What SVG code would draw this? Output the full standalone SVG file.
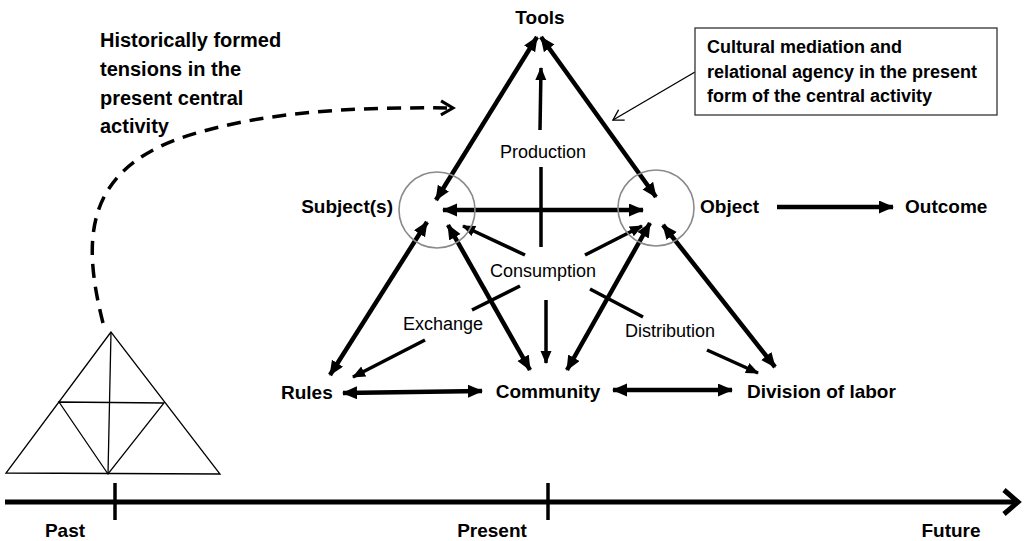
<svg xmlns="http://www.w3.org/2000/svg" width="1025" height="541" viewBox="0 0 1025 541">
<style>
.node{font-family:"Liberation Sans",Arial,sans-serif;font-weight:bold;font-size:19px;fill:#000}
.lbl{font-family:"Liberation Sans",Arial,sans-serif;font-size:18px;fill:#000}
.note{font-family:"Liberation Sans",Arial,sans-serif;font-weight:bold;font-size:18px;fill:#000}
.hist{font-family:"Liberation Sans",Arial,sans-serif;font-weight:bold;font-size:20px;fill:#000}
.thick{stroke:#000;stroke-width:4.5;fill:none}
.med{stroke:#000;stroke-width:3.5;fill:none}
.circ{stroke:#8a8a8a;stroke-width:1.6;fill:none}
.thin{stroke:#000;stroke-width:1.3;fill:none}
</style>
<defs>
<marker id="ah" markerUnits="userSpaceOnUse" markerWidth="16" markerHeight="14" refX="14" refY="6.5" orient="auto-start-reverse" viewBox="0 0 16 14">
<path d="M0,0 L15,6.5 L0,13 z" fill="#000"/>
</marker>
<marker id="ahs" markerUnits="userSpaceOnUse" markerWidth="14" markerHeight="12" refX="12" refY="5.5" orient="auto-start-reverse" viewBox="0 0 14 12">
<path d="M0,0 L13,5.5 L0,11 z" fill="#000"/>
</marker>
<marker id="open" markerUnits="userSpaceOnUse" markerWidth="14" markerHeight="14" refX="11" refY="7" orient="auto" viewBox="0 0 14 14">
<path d="M1,1 L11,7 L1,13" fill="none" stroke="#000" stroke-width="1.4"/>
</marker>
<marker id="openD" markerUnits="userSpaceOnUse" markerWidth="18" markerHeight="18" refX="14" refY="9" orient="auto" viewBox="0 0 18 18">
<path d="M2,2 L14,9 L2,16" fill="none" stroke="#000" stroke-width="3"/>
</marker>
<marker id="openT" markerUnits="userSpaceOnUse" markerWidth="22" markerHeight="30" refX="17" refY="15" orient="auto" viewBox="0 0 22 30">
<path d="M3,3 L17,15 L3,27" fill="none" stroke="#000" stroke-width="5"/>
</marker>
</defs>

<g id="connectors">
<line class="thick" x1="537" y1="37" x2="436" y2="200" marker-start="url(#ah)" marker-end="url(#ah)"/>
<line class="thick" x1="541" y1="37" x2="656" y2="197" marker-start="url(#ah)" marker-end="url(#ah)"/>
<line class="med" x1="540" y1="130" x2="541" y2="68" marker-end="url(#ahs)"/>
<line class="med" x1="541" y1="167" x2="541" y2="247"/>
<line class="thick" x1="443" y1="210" x2="643" y2="210" marker-start="url(#ah)" marker-end="url(#ah)"/>
<line class="med" x1="525" y1="255" x2="463" y2="226" marker-end="url(#ahs)"/>
<line class="med" x1="585" y1="255" x2="642" y2="226" marker-end="url(#ahs)"/>
<line class="thick" x1="330" y1="375" x2="427" y2="222" marker-start="url(#ah)" marker-end="url(#ah)"/>
<line class="thick" x1="448" y1="225" x2="530" y2="370" marker-start="url(#ah)" marker-end="url(#ah)"/>
<line class="thick" x1="567" y1="370" x2="650" y2="223" marker-start="url(#ah)" marker-end="url(#ah)"/>
<line class="thick" x1="663" y1="225" x2="775" y2="367" marker-start="url(#ah)" marker-end="url(#ah)"/>
<line class="med" x1="546" y1="300" x2="546" y2="363" marker-end="url(#ahs)"/>
<line class="med" x1="520" y1="286" x2="472" y2="310"/>
<line class="med" x1="425" y1="340" x2="353" y2="377" marker-end="url(#ahs)"/>
<line class="med" x1="590" y1="289" x2="643" y2="317"/>
<line class="med" x1="707" y1="350" x2="758" y2="373" marker-end="url(#ahs)"/>
<line class="thick" x1="343" y1="393" x2="482" y2="391" marker-start="url(#ah)" marker-end="url(#ah)"/>
<line class="thick" x1="613" y1="390" x2="732" y2="390" marker-start="url(#ah)" marker-end="url(#ah)"/>
<line class="thick" x1="777" y1="207" x2="893" y2="207" marker-end="url(#ah)"/>
<line class="thin" x1="695" y1="72" x2="613" y2="120" marker-end="url(#open)"/>
<path d="M103 323 C 82 240, 85 175, 175 140 C 260 110, 360 107, 453 108" stroke="#000" stroke-width="3.5" fill="none" stroke-dasharray="14,9" marker-end="url(#openD)"/>
</g>

<g id="timeline">
<line x1="5" y1="502" x2="1018" y2="502" stroke="#000" stroke-width="5" marker-end="url(#openT)"/>
<line x1="115" y1="483" x2="115" y2="520" stroke="#000" stroke-width="3.5"/>
<line x1="548" y1="483" x2="548" y2="520" stroke="#000" stroke-width="3.5"/>
<text class="node" x="65" y="537" text-anchor="middle">Past</text>
<text class="node" x="492" y="537" text-anchor="middle">Present</text>
<text class="node" x="951" y="537" text-anchor="middle">Future</text>
</g>

<g id="past-triangle" stroke="#000" stroke-width="1.3" fill="none">
<polygon points="111,332 6,473 220,474"/>
<line x1="111" y1="332" x2="108" y2="474"/>
<polygon points="59,402 164,403 108,474"/>
</g>

<g id="historical-note">
<text class="hist" x="100" y="47">Historically formed</text>
<text class="hist" x="100" y="76">tensions in the</text>
<text class="hist" x="100" y="105">present central</text>
<text class="hist" x="100" y="133">activity</text>
</g>

<g id="callout-box">
<rect x="695" y="28" width="302" height="87" fill="#fff" stroke="#333" stroke-width="1.3"/>
<text class="note" x="707" y="53">Cultural mediation and</text>
<text class="note" x="707" y="78">relational agency in the present</text>
<text class="note" x="707" y="102">form of the central activity</text>
</g>

<g id="tools"><text class="node" x="540" y="24" text-anchor="middle">Tools</text></g>
<g id="subject">
<circle class="circ" cx="437" cy="210" r="38"/>
<text class="node" x="393" y="213" text-anchor="end">Subject(s)</text>
</g>
<g id="object">
<circle class="circ" cx="656" cy="208" r="38"/>
<text class="node" x="700" y="213">Object</text>
</g>
<g id="outcome"><text class="node" x="905" y="213">Outcome</text></g>
<g id="rules"><text class="node" x="281" y="399">Rules</text></g>
<g id="community"><text class="node" x="548" y="398" text-anchor="middle">Community</text></g>
<g id="division"><text class="node" x="747" y="398">Division of labor</text></g>

<g id="labels">
<text class="lbl" x="543" y="158" text-anchor="middle">Production</text>
<text class="lbl" x="543" y="277" text-anchor="middle">Consumption</text>
<text class="lbl" x="443" y="330" text-anchor="middle">Exchange</text>
<text class="lbl" x="670" y="337" text-anchor="middle">Distribution</text>
</g>
</svg>
